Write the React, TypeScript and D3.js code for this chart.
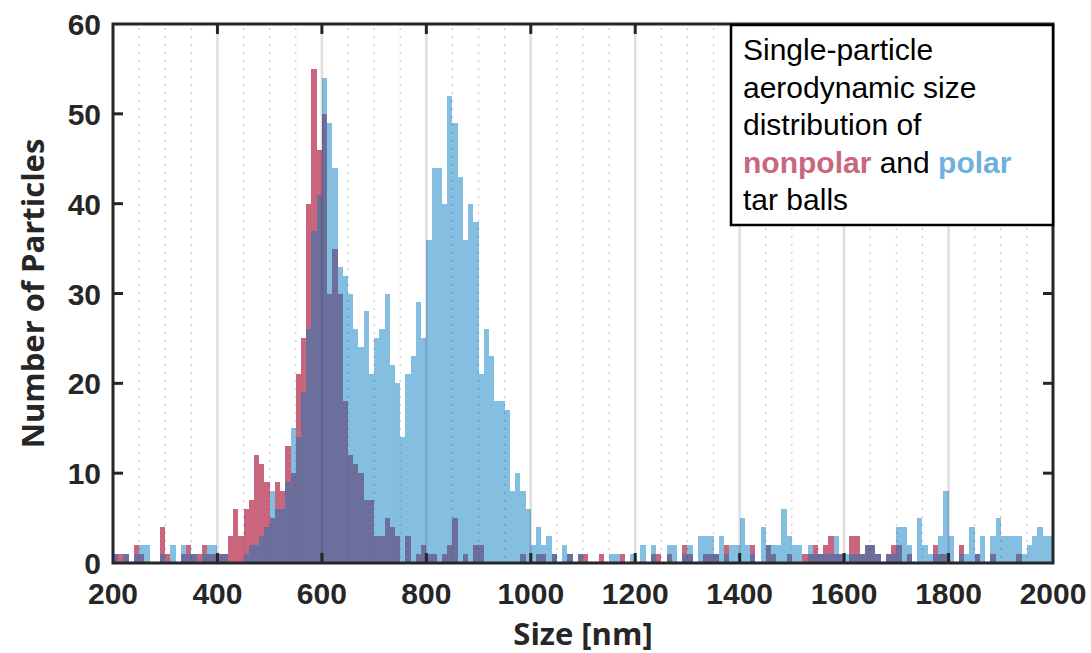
import { useEffect, useRef } from "react";
import * as d3 from "d3";

// 10 nm bins, left edges 200 ... 1990
const binStart = d3.range(200, 2000, 10);

// polar tar balls (blue)
const polar = [
  1, 0, 1, 0, 1, 2, 2, 0, 0, 1,
  0, 2, 0, 2, 1, 1, 0, 1, 2, 2,
  1, 1, 0, 0, 0, 1, 2, 2, 3, 4,
  8, 6, 6, 9, 15, 14, 19, 26, 37, 41,
  54, 49, 44, 33, 32, 30, 26, 24, 28, 21,
  25, 26, 30, 22, 20, 14, 21, 23, 29, 25,
  36, 44, 44, 40, 52, 49, 43, 36, 40, 38,
  21, 26, 23, 18, 18, 17, 8, 10, 8, 6,
  2, 4, 2, 3, 1, 0, 2, 1, 0, 1,
  0, 0, 0, 0, 0, 1, 1, 0, 0, 1,
  0, 2, 0, 2, 0, 0, 2, 2, 0, 1,
  2, 0, 3, 3, 3, 1, 3, 1, 2, 2,
  5, 2, 1, 0, 4, 2, 2, 2, 6, 3,
  2, 2, 0, 2, 1, 1, 1, 1, 3, 1,
  1, 1, 1, 1, 2, 2, 1, 0, 1, 1,
  4, 4, 2, 0, 5, 2, 1, 1, 3, 8,
  3, 0, 1, 1, 4, 1, 3, 0, 3, 5,
  3, 3, 3, 3, 1, 2, 3, 4, 3, 3,
];

// nonpolar tar balls (red)
const nonpolar = [
  1, 1, 1, 0, 2, 1, 0, 0, 0, 4,
  1, 0, 0, 1, 2, 1, 1, 2, 1, 1,
  1, 1, 3, 6, 3, 6, 7, 12, 11, 9,
  5, 9, 8, 13, 10, 21, 25, 40, 55, 46,
  50, 30, 35, 30, 18, 12, 11, 10, 7, 7,
  3, 3, 5, 4, 3, 0, 3, 0, 1, 2,
  1, 1, 0, 1, 2, 5, 0, 1, 0, 2,
  2, 0, 0, 0, 0, 0, 0, 0, 1, 0,
  0, 1, 1, 0, 1, 0, 0, 1, 0, 1,
  1, 0, 0, 1, 0, 0, 0, 1, 0, 0,
  0, 0, 0, 1, 1, 0, 1, 0, 0, 2,
  1, 0, 0, 1, 1, 1, 0, 2, 0, 0,
  0, 0, 2, 0, 0, 2, 1, 0, 0, 1,
  0, 0, 1, 1, 2, 1, 2, 3, 1, 1,
  0, 3, 3, 1, 2, 2, 1, 0, 1, 2,
  2, 0, 1, 0, 0, 0, 0, 2, 1, 1,
  0, 0, 2, 0, 0, 1, 0, 0, 1, 0,
  0, 0, 0, 1, 0, 0, 0, 0, 0, 0,
];

const xTicks = [200, 400, 600, 800, 1000, 1200, 1400, 1600, 1800, 2000];
const yTicks = [0, 10, 20, 30, 40, 50, 60];
const majorGrid = [400, 600, 800, 1000, 1200, 1400, 1600, 1800];
const minorGrid = d3.range(250, 2000, 50).filter((v) => v % 200 !== 0);

const BLUE = "#84bfe2";
const RED = "#c9667d";
const PURPLE = "#6c6f9c";
const INK = "#262626";

const W = 1091,
  H = 653;
const margin = { top: 24, right: 38, bottom: 90, left: 113 };

const App = () => {
  const svgRef = useRef<SVGSVGElement>(null);

  useEffect(() => {
    const svg = d3.select(svgRef.current);
    svg.selectAll("*").remove();

    const x = d3
      .scaleLinear()
      .domain([200, 2000])
      .range([margin.left, W - margin.right]);
    const y = d3
      .scaleLinear()
      .domain([0, 60])
      .range([H - margin.bottom, margin.top]);

    svg.append("rect").attr("width", W).attr("height", H).attr("fill", "white");

    const bars = svg.append("g").attr("shape-rendering", "crispEdges");
    const drawBars = (vals: number[], color: string) => {
      bars
        .append("g")
        .selectAll("rect")
        .data(binStart.map((b, i) => ({ b, v: vals[i] })).filter((d) => d.v > 0))
        .join("rect")
        .attr("x", (d) => x(d.b))
        .attr("width", (d) => x(d.b + 10) - x(d.b))
        .attr("y", (d) => y(d.v))
        .attr("height", (d) => y(0) - y(d.v))
        .attr("fill", color);
    };
    drawBars(polar, BLUE);
    drawBars(nonpolar, RED);
    // overlap of the two histograms
    drawBars(binStart.map((_, i) => Math.min(polar[i], nonpolar[i])), PURPLE);

    // grid on top of the bars
    svg
      .append("g")
      .selectAll("line")
      .data(minorGrid)
      .join("line")
      .attr("x1", (d) => x(d))
      .attr("x2", (d) => x(d))
      .attr("y1", y(60) + 4)
      .attr("y2", y(0))
      .attr("stroke", INK)
      .attr("stroke-opacity", 0.25)
      .attr("stroke-width", 1.2)
      .attr("stroke-dasharray", "2 6");

    svg
      .append("g")
      .selectAll("line")
      .data(majorGrid)
      .join("line")
      .attr("x1", (d) => x(d))
      .attr("x2", (d) => x(d))
      .attr("y1", y(60))
      .attr("y2", y(0))
      .attr("stroke", INK)
      .attr("stroke-opacity", 0.15)
      .attr("stroke-width", 2.5);

    // axes box
    svg
      .append("rect")
      .attr("x", x(200))
      .attr("y", y(60))
      .attr("width", x(2000) - x(200))
      .attr("height", y(0) - y(60))
      .attr("fill", "none")
      .attr("stroke", INK)
      .attr("stroke-width", 3);

    const tickLen = 10;
    const ticks = svg.append("g").attr("stroke", INK).attr("stroke-width", 3);
    xTicks.slice(1, -1).forEach((t) => {
      ticks.append("line").attr("x1", x(t)).attr("x2", x(t)).attr("y1", y(0)).attr("y2", y(0) - tickLen);
      ticks.append("line").attr("x1", x(t)).attr("x2", x(t)).attr("y1", y(60)).attr("y2", y(60) + tickLen);
    });
    yTicks.slice(1, -1).forEach((t) => {
      ticks.append("line").attr("x1", x(200)).attr("x2", x(200) + tickLen).attr("y1", y(t)).attr("y2", y(t));
      ticks.append("line").attr("x1", x(2000)).attr("x2", x(2000) - tickLen).attr("y1", y(t)).attr("y2", y(t));
    });

    const tickFont = "'Liberation Sans', Arial, sans-serif";
    svg
      .append("g")
      .selectAll("text")
      .data(xTicks)
      .join("text")
      .attr("x", (d) => x(d))
      .attr("y", 604)
      .attr("text-anchor", "middle")
      .attr("font-family", tickFont)
      .attr("font-weight", "bold")
      .attr("font-size", 30)
      .attr("fill", INK)
      .text((d) => d);

    svg
      .append("g")
      .selectAll("text")
      .data(yTicks)
      .join("text")
      .attr("x", 101)
      .attr("y", (d) => y(d) + 11)
      .attr("text-anchor", "end")
      .attr("font-family", tickFont)
      .attr("font-weight", "bold")
      .attr("font-size", 30)
      .attr("fill", INK)
      .text((d) => d);

    const titleFont = "'Open Sans', sans-serif";
    svg
      .append("text")
      .attr("x", (x(200) + x(2000)) / 2)
      .attr("y", 645)
      .attr("text-anchor", "middle")
      .attr("font-family", titleFont)
      .attr("font-weight", "bold")
      .attr("font-size", 31)
      .attr("fill", INK)
      .text("Size [nm]");

    svg
      .append("text")
      .attr("transform", `translate(44,${(y(0) + y(60)) / 2}) rotate(-90)`)
      .attr("text-anchor", "middle")
      .attr("font-family", titleFont)
      .attr("font-weight", "bold")
      .attr("font-size", 31)
      .attr("fill", INK)
      .text("Number of Particles");

    // annotation box
    const note = svg.append("g");
    note
      .append("rect")
      .attr("x", 731)
      .attr("y", 25)
      .attr("width", x(2000) - 731)
      .attr("height", 200)
      .attr("fill", "white")
      .attr("stroke", "black")
      .attr("stroke-width", 2.5);

    const noteText = note
      .append("text")
      .attr("font-family", tickFont)
      .attr("font-size", 30)
      .attr("fill", "black");
    const lines = ["Single-particle", "aerodynamic size", "distribution of", null, "tar balls"];
    lines.forEach((l, i) => {
      const t = noteText
        .append("tspan")
        .attr("x", 743)
        .attr("y", 60 + i * 37.5);
      if (l) t.text(l);
      else {
        t.append("tspan").attr("font-weight", "bold").attr("fill", "#c8677d").text("nonpolar");
        t.append("tspan").text(" and ");
        t.append("tspan").attr("font-weight", "bold").attr("fill", "#6fb1de").text("polar");
      }
    });
  }, []);

  return (
    <svg
      ref={svgRef}
      width={W}
      height={H}
      style={{ position: "absolute", left: 0, top: 0 }}
    />
  );
};

export default App;
